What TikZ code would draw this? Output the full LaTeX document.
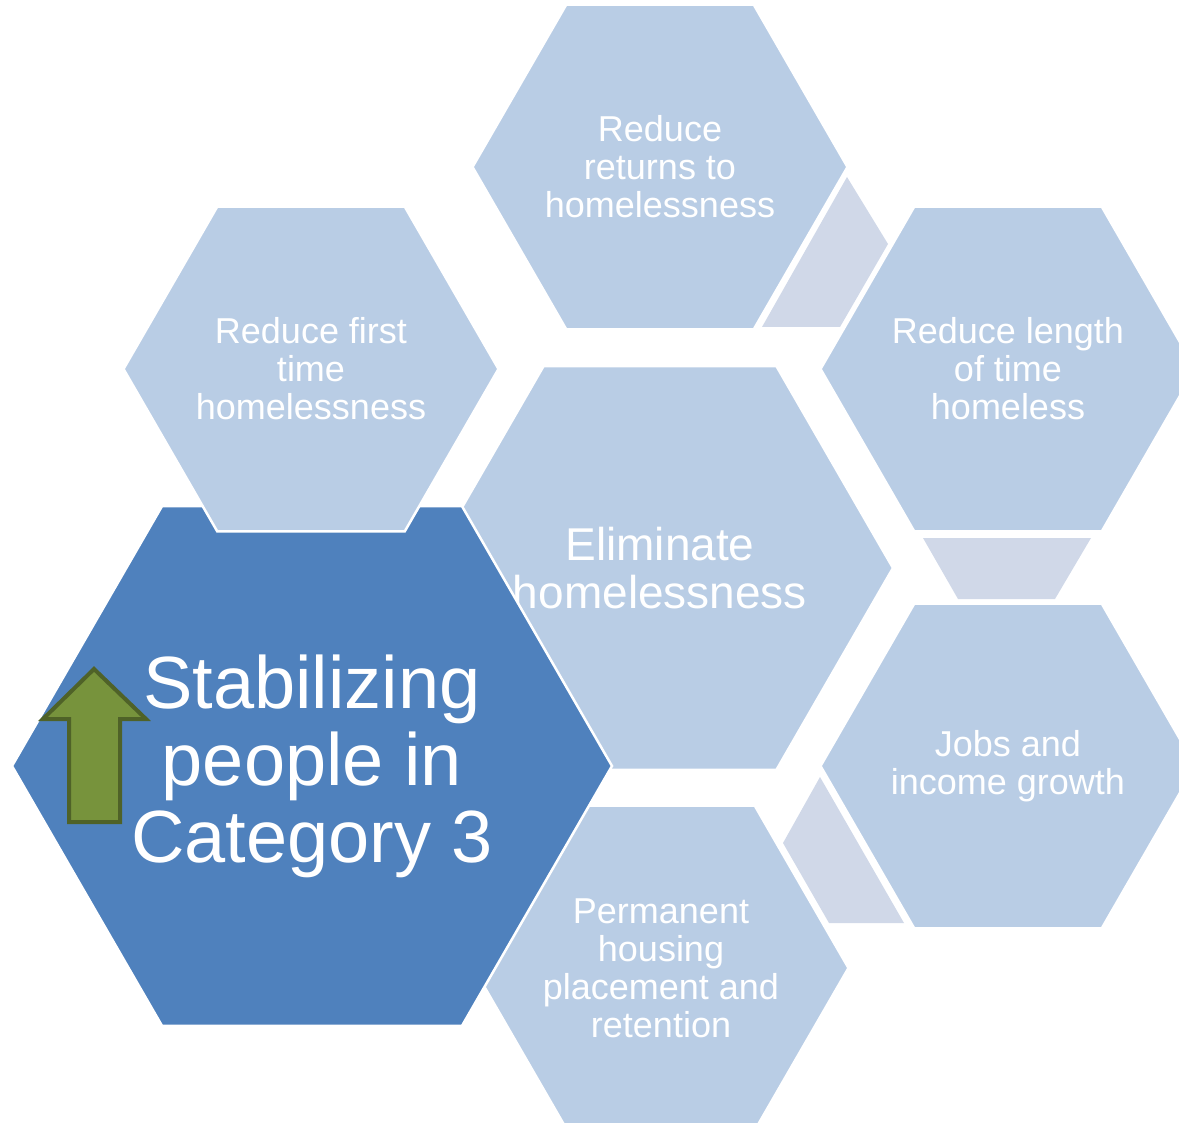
\documentclass[tikz,border=0pt]{standalone}
\usepackage{fontspec}
\setmainfont{Liberation Sans}

\definecolor{hexlight}{HTML}{B9CDE5}
\definecolor{hexdark}{HTML}{4F81BD}
\definecolor{gapfill}{HTML}{D0D8E8}
\definecolor{arrowgreen}{HTML}{77933C}
\definecolor{arrowline}{HTML}{4F6228}

\begin{document}
\begin{tikzpicture}[x=1pt, y=-1pt,
    hexcell/.style={draw=white, line width=2.5pt, line join=miter},
    hextext/.style={inner sep=0pt, align=center, text=white},
    smalltext/.style={hextext, font=\fontsize{36}{38}\selectfont},
    maintext/.style={hextext, font=\fontsize{46}{48}\selectfont},
    focustext/.style={hextext, font=\fontsize{74}{77}\selectfont},
    gapshape/.style={fill=gapfill},
    upmark/.style={fill=arrowgreen, draw=arrowline, line width=4pt}
    ]

    \useasboundingbox (0,0) rectangle (1179,1123);

    % Gap pieces between the outer hexagons
    \fill[gapshape] (847,177) -- (888,244) -- (840,327) -- (762,327) -- cycle;
    \fill[gapshape] (923,538) -- (1091,538) -- (1055,599) -- (958,599) -- cycle;
    \fill[gapshape] (820,777) -- (904,923) -- (829,923) -- (783,843) -- cycle;

    % Outer hexagons
    \foreach \pos/\name/\txt in {
        {(660,167)}/returns/{Reduce\\returns to\\homelessness},
        {(1008,369)}/length/{Reduce length\\of time\\homeless},
        {(1008,766)}/jobs/{Jobs and\\income growth},
        {(661,968)}/housing/{Permanent\\housing\\placement and\\retention}}
    {
        \path[hexcell, fill=hexlight] \pos ++(0:187.5) -- ++(120:187.5) -- ++(180:187.5)
            -- ++(240:187.5) -- ++(300:187.5) -- ++(0:187.5) -- cycle;
        \node[smalltext] (\name) at \pos {\txt};
    }

    % Middle hexagon
    \path[hexcell, fill=hexlight] (660,568) ++(0:233) -- ++(120:233) -- ++(180:233)
        -- ++(240:233) -- ++(300:233) -- ++(0:233) -- cycle;
    \node[maintext] (goal) at (660,568) {Eliminate\\homelessness};

    % Highlighted hexagon
    \path[hexcell, fill=hexdark] (312,766) ++(0:300) -- ++(120:300) -- ++(180:300)
        -- ++(240:300) -- ++(300:300) -- ++(0:300) -- cycle;
    \node[focustext] (focus) at (312,766) {Stabilizing\\people in\\Category 3};

    \path[hexcell, fill=hexlight] (311,369) ++(0:187.5) -- ++(120:187.5) -- ++(180:187.5)
        -- ++(240:187.5) -- ++(300:187.5) -- ++(0:187.5) -- cycle;
    \node[smalltext] (first) at (311,369) {Reduce first\\time\\homelessness};

    % Arrow
    \draw[upmark] (94,669) -- (146,719) -- (120,719) -- (120,822) -- (69,822)
        -- (69,719) -- (43,719) -- cycle;

\end{tikzpicture}
\end{document}
